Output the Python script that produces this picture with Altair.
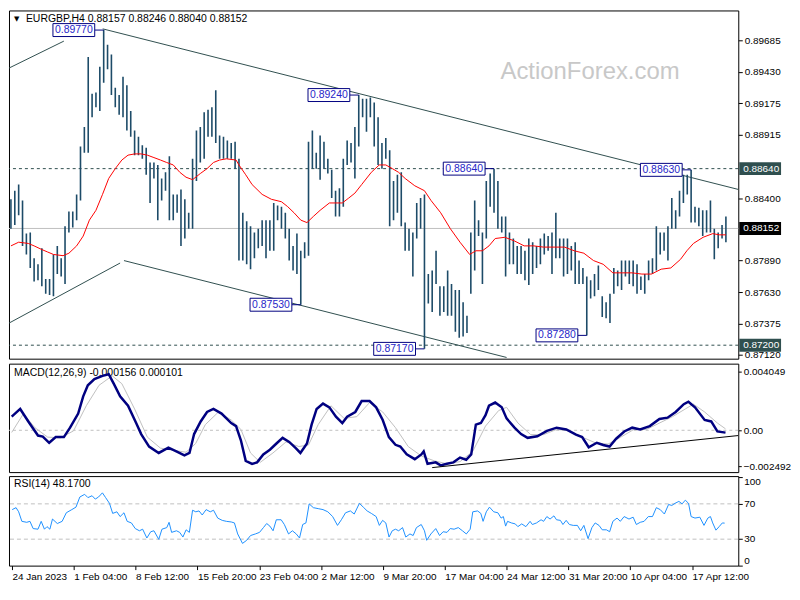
import altair as alt
import pandas as pd

# ---------------- data ----------------
bar_high = [
    0.8839, 0.8846, 0.8851, 0.8838, 0.8811, 0.8812, 0.8791, 0.8786, 0.8799, 0.8774,
    0.8774, 0.8794, 0.8801, 0.8791, 0.8817, 0.8829, 0.8829, 0.8843, 0.8882, 0.8898,
    0.8955, 0.8925, 0.8926, 0.8947, 0.8977, 0.8965, 0.8957, 0.8930, 0.8924, 0.8939,
    0.8932, 0.8911, 0.8895, 0.8890, 0.8883, 0.8881, 0.8869, 0.8869, 0.8867, 0.8856,
    0.8861, 0.8874, 0.8843, 0.8843, 0.8847, 0.8839, 0.8828, 0.8872, 0.8895, 0.8898,
    0.8910, 0.8912, 0.8914, 0.8928, 0.8891, 0.8890, 0.8887, 0.8885, 0.8886, 0.8872,
    0.8828, 0.8821, 0.8817, 0.8812, 0.8815, 0.8822, 0.8822, 0.8822, 0.8836, 0.8834,
    0.8833, 0.8828, 0.8815, 0.8801, 0.8811, 0.8797, 0.8804, 0.8886, 0.8895, 0.8877,
    0.8891, 0.8886, 0.8872, 0.8863, 0.8846, 0.8848, 0.8872, 0.8887, 0.8885, 0.8898,
    0.8924, 0.8921, 0.8921, 0.8922, 0.8918, 0.8906, 0.8885, 0.8889, 0.8879, 0.8854,
    0.8859, 0.8861, 0.8820, 0.8815, 0.8812, 0.8836, 0.8840, 0.8843, 0.8778, 0.8781,
    0.8797, 0.8768, 0.8768, 0.8781, 0.8770, 0.8765, 0.8765, 0.8755, 0.8744, 0.8812,
    0.8838, 0.8822, 0.8812, 0.8854, 0.8860, 0.8864, 0.8854, 0.8825, 0.8825, 0.8812,
    0.8807, 0.8801, 0.8801, 0.8797, 0.8807, 0.8804, 0.8801, 0.8807, 0.8811, 0.8809,
    0.8812, 0.8828, 0.8807, 0.8807, 0.8807, 0.8801, 0.8804, 0.8789, 0.8783, 0.8776,
    0.8773, 0.8778, 0.8785, 0.8760, 0.8755, 0.8762, 0.8783, 0.8781, 0.8789, 0.8789,
    0.8789, 0.8789, 0.8786, 0.8776, 0.8778, 0.8789, 0.8791, 0.8817, 0.8812, 0.8812,
    0.8817, 0.8840, 0.8830, 0.8846, 0.8859, 0.8859, 0.8863, 0.8833, 0.8832, 0.8830,
    0.8830, 0.8838, 0.8815, 0.8812, 0.8818, 0.8825,
]
bar_low = [
    0.8815, 0.8818, 0.8826, 0.8801, 0.8794, 0.8783, 0.8772, 0.8773, 0.8768, 0.8762,
    0.8761, 0.8760, 0.8778, 0.8776, 0.8770, 0.8812, 0.8816, 0.8822, 0.8838, 0.8877,
    0.8877, 0.8906, 0.8914, 0.8911, 0.8934, 0.8945, 0.8924, 0.8914, 0.8908, 0.8906,
    0.8895, 0.8890, 0.8875, 0.8875, 0.8872, 0.8859, 0.8836, 0.8856, 0.8822, 0.8838,
    0.8846, 0.8822, 0.8822, 0.8828, 0.8801, 0.8807, 0.8815, 0.8815, 0.8854, 0.8869,
    0.8872, 0.8890, 0.8890, 0.8885, 0.8872, 0.8872, 0.8872, 0.8872, 0.8864, 0.8789,
    0.8789, 0.8786, 0.8782, 0.8791, 0.8799, 0.8801, 0.8791, 0.8797, 0.8797, 0.8822,
    0.8815, 0.8807, 0.8789, 0.8781, 0.8778, 0.8753, 0.8791, 0.8793, 0.8864, 0.8864,
    0.8855, 0.8864, 0.8860, 0.8840, 0.8825, 0.8825, 0.8833, 0.8867, 0.8869, 0.8856,
    0.8882, 0.8906, 0.8894, 0.8906, 0.8882, 0.8867, 0.8864, 0.8872, 0.8817, 0.8822,
    0.8828, 0.8817, 0.8797, 0.8797, 0.8776, 0.8807, 0.8815, 0.8717, 0.8754, 0.8747,
    0.8770, 0.8744, 0.8747, 0.8744, 0.8744, 0.8731, 0.8726, 0.8727, 0.8730, 0.8762,
    0.8781, 0.8809, 0.8770, 0.8807, 0.8833, 0.8828, 0.8815, 0.8812, 0.8776, 0.8786,
    0.8786, 0.8778, 0.8778, 0.8773, 0.8769, 0.8778, 0.8783, 0.8786, 0.8794, 0.8797,
    0.8778, 0.8791, 0.8791, 0.8776, 0.8778, 0.8781, 0.8770, 0.8770, 0.8770, 0.8728,
    0.8758, 0.8760, 0.8765, 0.8743, 0.8742, 0.8738, 0.8762, 0.8768, 0.8765, 0.8776,
    0.8770, 0.8768, 0.8762, 0.8765, 0.8762, 0.8773, 0.8778, 0.8781, 0.8794, 0.8797,
    0.8789, 0.8815, 0.8815, 0.8825, 0.8836, 0.8843, 0.8820, 0.8820, 0.8817, 0.8809,
    0.8812, 0.8812, 0.8790, 0.8799, 0.8807, 0.8804,
]

ma_points = [
    (0, 0.8801), (2, 0.8804), (4.5, 0.8803), (6, 0.8801), (8, 0.8798), (9.5, 0.8796),
    (11, 0.8794), (13.5, 0.8793), (15, 0.8795), (17, 0.8801), (18.7, 0.8809), (20.3, 0.8822),
    (22, 0.8830), (23.7, 0.8843), (25.3, 0.8856), (27, 0.8864), (28.7, 0.8871), (30.3, 0.8875),
    (32, 0.8876), (33.7, 0.8876), (35.3, 0.8875), (37, 0.8873), (38.7, 0.8871), (40.3, 0.8869),
    (42, 0.8867), (43.7, 0.8861), (45.3, 0.8857), (47, 0.8855), (49, 0.8860), (50.75, 0.8864),
    (52.4, 0.8869), (54, 0.8871), (55.75, 0.8872), (58.25, 0.8871), (59, 0.8867), (60.75, 0.8859),
    (62.4, 0.8851), (65, 0.8843), (67.4, 0.8839), (70, 0.8837), (71.6, 0.8833), (73.25, 0.8828),
    (75, 0.8822), (76.6, 0.8820), (78.25, 0.8825), (80, 0.8830), (82.4, 0.8836), (85.75, 0.8836),
    (87.4, 0.8840), (89, 0.8844), (90.75, 0.8851), (93.25, 0.8861), (95.3, 0.8867), (97, 0.8867),
    (98.7, 0.8864), (100.3, 0.8861), (102, 0.8856), (104.5, 0.8850), (107, 0.8846), (108.7, 0.8838),
    (111.2, 0.8828), (113.7, 0.8815), (116.2, 0.8804), (118.7, 0.8794), (120.3, 0.8797), (122, 0.8797),
    (123.7, 0.8801), (125.3, 0.8807), (127.8, 0.8808), (130.3, 0.8805), (132.8, 0.8801), (135.3, 0.8801),
    (137.8, 0.8800), (140.75, 0.8800), (143.25, 0.8800), (145.75, 0.8797), (148.25, 0.8795), (150.75, 0.8789),
    (153.25, 0.8786), (155.75, 0.8779), (158.25, 0.8779), (160.75, 0.8779), (163.25, 0.8778), (165.75, 0.8778),
    (168.25, 0.8782), (170.75, 0.8783), (173.25, 0.8790), (174.9, 0.8797), (176.6, 0.8803), (179.1, 0.8808),
    (181.6, 0.8811), (183.25, 0.8810), (185, 0.8810),
]

macd_points = [
    (0.2, 0.00094), (2.4, 0.00147), (4.5, 0.00061), (7.0, -0.00036), (8.25, -0.00043), (9.9, -0.00086),
    (11.6, -0.00047), (13.7, -0.00047), (15.3, 0.00018), (17.4, 0.00115), (18.7, 0.00234), (19.9, 0.00310),
    (21.6, 0.00353), (23.7, 0.00375), (25.3, 0.00386), (26.6, 0.00321), (28.25, 0.00234), (30.3, 0.00169),
    (32.4, 0.00050), (33.7, -0.00026), (35.75, -0.00112), (38.25, -0.00156), (40.75, -0.00119), (42.8, -0.00145),
    (44.9, -0.00173), (46.2, -0.00156), (47.4, -0.00026), (49.1, 0.00061), (50.75, 0.00126), (52.4, 0.00147),
    (54.5, 0.00115), (57.0, 0.00050), (58.25, 0.00029), (59.5, -0.00069), (60.75, -0.00210), (62.4, -0.00231),
    (63.7, -0.00221), (65.3, -0.00166), (67.0, -0.00134), (68.7, -0.00091), (70.3, -0.00052), (72.0, -0.00080),
    (73.7, -0.00123), (74.9, -0.00156), (76.6, -0.00091), (77.8, 0.00039), (79.1, 0.00147), (80.75, 0.00184),
    (82.4, 0.00158), (84.1, 0.00094), (85.75, 0.00050), (87.0, 0.00094), (89.1, 0.00126), (90.75, 0.00201),
    (92.8, 0.00201), (94.5, 0.00158), (96.2, 0.00071), (97.8, -0.00047), (99.5, -0.00100), (100.75, -0.00112),
    (102.4, -0.00166), (104.5, -0.00199), (106.2, -0.00166), (106.8, -0.00145), (107.8, -0.00231), (109.9, -0.00221),
    (111.2, -0.00242), (112.8, -0.00231), (114.5, -0.00221), (116.2, -0.00188), (117.8, -0.00203), (119.1, -0.00166),
    (120.3, 0.00039), (121.6, 0.00050), (122.8, 0.00104), (123.7, 0.00169), (125.3, 0.00191), (127.0, 0.00158),
    (128.25, 0.00082), (130.3, 0.00018), (132.0, -0.00026), (133.7, -0.00052), (136.2, -0.00041), (138.7, -0.00004),
    (141.2, 0.00018), (143.7, 0.00006), (146.2, -0.00030), (147.8, -0.00047), (149.5, -0.00117), (151.6, -0.00086),
    (153.25, -0.00101), (154.9, -0.00112), (156.6, -0.00058), (158.7, -0.00008), (160.75, 0.00018), (162.8, 0.00006),
    (165.3, 0.00029), (167.8, 0.00078), (169.9, 0.00087), (172.0, 0.00126), (174.1, 0.00180), (175.3, 0.00197),
    (177.0, 0.00158), (179.5, 0.00071), (181.2, 0.00061), (182.8, -0.00008), (184.9, -0.00016),
]

signal_points = [
    (0.2, -0.00015), (3.25, 0.00115), (6.2, 0.00018), (9.5, -0.00047), (12.8, -0.00052), (16.2, -0.00004),
    (19.5, 0.00169), (22.8, 0.00310), (26.2, 0.00375), (28.7, 0.00321), (32.0, 0.00147), (35.3, -0.00047),
    (38.7, -0.00123), (42.0, -0.00138), (45.3, -0.00151), (47.8, -0.00091), (50.3, 0.00039), (53.7, 0.00126),
    (57.0, 0.00071), (59.5, 0.00006), (62.0, -0.00156), (64.5, -0.00221), (67.8, -0.00156), (71.2, -0.00080),
    (74.5, -0.00112), (77.0, -0.00101), (79.5, 0.00039), (82.8, 0.00169), (86.2, 0.00082), (89.5, 0.00094),
    (92.8, 0.00191), (96.2, 0.00126), (99.5, 0.00018), (102.8, -0.00112), (106.2, -0.00177), (109.5, -0.00210),
    (112.8, -0.00231), (116.2, -0.00216), (119.5, -0.00145), (122.8, 0.00029), (126.2, 0.00136), (128.25, 0.00158),
    (131.2, 0.00050), (134.5, -0.00030), (137.8, -0.00030), (141.2, 0.00006), (144.5, -0.00004), (147.8, -0.00047),
    (151.2, -0.00086), (154.5, -0.00095), (157.8, -0.00047), (161.2, 0.00006), (164.5, 0.00006), (167.8, 0.00050),
    (171.2, 0.00094), (174.5, 0.00147), (176.6, 0.00180), (179.5, 0.00126), (182.8, 0.00050), (184.9, 0.00010),
]

rsi_points = [
    (0.33, 63.5), (1.33, 65.7), (2.0, 61.0), (2.83, 50.2), (4.08, 49.1), (4.92, 50.2), (5.75, 42.0),
    (7.0, 41.3), (7.83, 50.2), (8.67, 41.3), (9.33, 44.2), (10.08, 41.3), (10.75, 52.8), (12.0, 47.7),
    (13.25, 50.2), (14.33, 59.9), (15.75, 63.5), (16.83, 66.3), (17.83, 77.8), (19.08, 80.8), (19.92, 77.1),
    (21.0, 79.2), (21.83, 75.4), (22.67, 77.8), (23.67, 82.5), (24.5, 77.1), (25.5, 70.6), (26.33, 59.2),
    (27.42, 61.0), (28.25, 55.6), (29.25, 59.9), (30.08, 50.2), (31.17, 48.4), (32.17, 42.0), (33.25, 39.5),
    (34.08, 41.3), (35.17, 31.3), (36.17, 38.4), (37.0, 39.5), (38.25, 29.8), (39.08, 41.3), (40.33, 43.1),
    (40.92, 49.1), (41.58, 37.7), (42.83, 39.5), (43.67, 37.7), (44.5, 32.4), (45.33, 40.6), (46.17, 37.7),
    (47.0, 62.8), (47.83, 61.0), (48.67, 62.0), (49.5, 57.4), (50.5, 63.5), (51.58, 61.0), (52.42, 62.8),
    (53.5, 53.9), (54.67, 51.3), (55.75, 50.2), (57.0, 49.5), (57.83, 48.4), (58.67, 35.9), (59.92, 25.2),
    (61.0, 28.7), (62.0, 34.1), (63.25, 35.9), (64.33, 37.7), (65.33, 43.1), (66.17, 47.7), (67.0, 44.8),
    (67.83, 39.5), (68.67, 52.0), (69.92, 52.0), (70.75, 46.6), (71.83, 35.9), (72.83, 39.5), (73.83, 35.9),
    (74.67, 31.3), (75.5, 46.6), (76.33, 48.4), (77.17, 70.0), (78.25, 65.7), (79.5, 64.6), (80.75, 63.5),
    (82.0, 61.0), (83.25, 55.6), (84.5, 45.6), (85.5, 52.0), (86.58, 59.9), (87.83, 62.0), (88.83, 58.5),
    (90.17, 70.6), (91.17, 66.3), (92.17, 62.0), (93.25, 59.2), (94.5, 55.6), (95.33, 45.6), (96.17, 51.3),
    (97.0, 48.4), (97.83, 32.4), (98.67, 39.5), (99.5, 41.3), (100.33, 39.5), (101.33, 43.1), (102.17, 32.4),
    (103.25, 35.9), (104.08, 34.1), (104.92, 43.1), (106.17, 46.6), (107.0, 39.5), (107.58, 28.7), (108.67, 35.9),
    (109.92, 42.0), (110.92, 34.1), (111.83, 38.4), (112.83, 37.7), (113.67, 42.0), (114.67, 41.3), (115.75, 43.1),
    (116.83, 39.5), (117.83, 35.9), (118.83, 41.3), (119.5, 61.0), (120.75, 62.0), (121.58, 59.2), (122.17, 50.2),
    (123.0, 61.0), (123.83, 66.3), (124.92, 61.0), (126.0, 59.9), (126.83, 53.9), (127.42, 55.6), (128.0, 44.8),
    (128.5, 50.2), (129.5, 48.4), (130.5, 47.3), (131.17, 44.2), (132.17, 47.3), (133.25, 44.2), (134.33, 50.2),
    (134.92, 46.6), (136.0, 48.4), (137.17, 52.0), (137.83, 50.2), (138.67, 55.6), (139.5, 52.8), (140.5, 56.4),
    (141.17, 52.0), (142.17, 51.3), (142.83, 46.6), (143.67, 51.3), (144.5, 46.6), (145.5, 45.6), (146.58, 45.6),
    (147.42, 39.5), (148.25, 45.6), (149.33, 30.6), (150.33, 43.1), (151.17, 48.4), (152.17, 45.6), (153.0, 40.6),
    (154.08, 40.6), (154.92, 38.4), (155.75, 50.2), (156.83, 53.9), (157.67, 50.2), (158.67, 55.6), (159.92, 52.8),
    (161.0, 54.9), (161.83, 46.6), (162.83, 49.1), (163.83, 50.2), (164.92, 55.6), (166.0, 55.6), (167.0, 65.7),
    (168.0, 63.5), (169.08, 58.5), (170.17, 69.3), (171.0, 68.2), (171.83, 70.6), (172.83, 72.8), (173.67, 70.0),
    (174.5, 74.2), (175.33, 70.6), (176.0, 55.6), (177.0, 53.9), (178.25, 54.9), (179.33, 45.6), (180.33, 53.9),
    (181.0, 55.6), (181.58, 48.4), (182.42, 40.2), (183.25, 44.2), (184.08, 48.4), (184.67, 48.17),
]

# trend lines on the price pane: (start index, start price, end index, end price)
trend_lines = [
    (-0.5, 0.8946, 13.7, 0.8968),
    (-0.5, 0.8738, 28.25, 0.8787),
    (29.25, 0.8789, 128.25, 0.8710),
    (23.75, 0.8978, 188.25, 0.8847),
]
macd_trend = [(109.0, -0.00257, 188.25, -0.00036)]

price_ticks = [0.89685, 0.89430, 0.89175, 0.88915, 0.88400, 0.87890, 0.87630, 0.87375, 0.87120]
box_levels = [0.88640, 0.88152, 0.87200]
box_labels = ["0.88640", "0.88152", "0.87200"]
box_fill = ["#2f4f4f", "#000000", "#2f4f4f"]
dashed_levels = [0.88640, 0.87200]
last_price = [0.88152]

marker_labels = ["0.89770", "0.89240", "0.87530", "0.88640", "0.87170", "0.87280", "0.88630"]
marker_idx = [24, 90, 75, 125, 107, 149, 176]
marker_price = [0.89770, 0.89240, 0.87530, 0.88640, 0.87170, 0.87280, 0.88630]

time_idx = [0.25, 16.25, 32.25, 48.25, 64.25, 80.25, 96.25, 112.25, 128.25, 144.25, 160.25, 176.25]
time_labels = ["24 Jan 2023", "1 Feb 04:00", "8 Feb 12:00", "15 Feb 20:00", "23 Feb 04:00",
               "2 Mar 12:00", "9 Mar 20:00", "17 Mar 04:00", "24 Mar 12:00", "31 Mar 20:00",
               "10 Apr 04:00", "17 Apr 12:00"]

macd_ticks = [0.004049, 0.0, -0.002492]
rsi_ticks = [100, 70, 30, 0]
rsi_mid_labels = ["70", "30"]
rsi_mid_values = [70, 30]
rsi_top_label = "100"
rsi_bottom_label = "0\u200b"
rsi_levels = [70, 30]

title_main = "EURGBP,H4  0.88157 0.88246 0.88040 0.88152"
title_macd = "MACD(12,26,9) -0.000156 0.000101"
title_rsi = "RSI(14) 48.1700"
watermark = "ActionForex.com"

# ---------------- layout / style ----------------
W = 733
H1, H2, H3 = 350, 109, 90
FONT = "Liberation Sans"
BAR = "#1d4b68"

xs = alt.Scale(domain=[-0.5, 188.2], nice=False, zero=False)
ys1 = alt.Scale(domain=[0.8709, 0.8993], nice=False, zero=False)
ys2 = alt.Scale(domain=[-0.00288, 0.00459], nice=False, zero=False)
ys3 = alt.Scale(domain=[0, 101.5], nice=False, zero=False)


def raxis(values, **kw):
    base = dict(orient="right", values=values, title=None, grid=False, domain=False,
                ticks=True, tickSize=4, tickColor="black", labelColor="black",
                labelFont=FONT, labelFontSize=10, labelPadding=2,
                labelOverlap=False, labelBound=False, labelFlush=False)
    base.update(kw)
    return alt.Axis(**base)


AX1 = raxis(price_ticks, format=".5f")
AX2 = raxis(macd_ticks, tickSize=3,
            labelExpr="datum.value == 0 ? '0.00' : format(datum.value, '.6f')")
AX3 = raxis(rsi_ticks, labels=False)


def txt(s):
    return pd.DataFrame({"t": [s]})


# ---------------- main price pane ----------------
df_bars = pd.DataFrame({"i": list(range(len(bar_high))), "high": bar_high, "low": bar_low})
df_ma = pd.DataFrame(ma_points, columns=["i", "v"])
df_tr = pd.DataFrame(trend_lines, columns=["i1", "p1", "i2", "p2"])
df_mk = pd.DataFrame({"i": marker_idx, "p": marker_price, "t": marker_labels})
df_box = pd.DataFrame({"p": box_levels, "t": box_labels, "c": box_fill})

l_dash = alt.Chart(pd.DataFrame({"p": dashed_levels})).mark_rule(
    color="#2f4f4f", strokeDash=[3, 3], strokeWidth=1).encode(
    y=alt.Y("p:Q", scale=ys1, axis=AX1))
l_last = alt.Chart(pd.DataFrame({"p": last_price})).mark_rule(
    color="#c0c0c0", strokeWidth=1).encode(y=alt.Y("p:Q", scale=ys1, axis=AX1))
l_wm = alt.Chart(txt(watermark)).mark_text(
    font=FONT, fontSize=24, color="#c8c8c8", align="center", baseline="middle").encode(
    x=alt.value(584), y=alt.value(62), text="t:N")
l_tr = alt.Chart(df_tr).mark_rule(color="#2f4f4f", strokeWidth=1, clip=True).encode(
    x=alt.X("i1:Q", scale=xs, axis=None), y=alt.Y("p1:Q", scale=ys1, axis=AX1),
    x2="i2:Q", y2="p2:Q")
l_bars = alt.Chart(df_bars).mark_rule(color=BAR, strokeWidth=1.6, clip=True).encode(
    x=alt.X("i:Q", scale=xs, axis=None), y=alt.Y("low:Q", scale=ys1, axis=AX1), y2="high:Q")
l_ma = alt.Chart(df_ma).mark_line(color="#ff0000", strokeWidth=1, clip=True).encode(
    x=alt.X("i:Q", scale=xs, axis=None), y=alt.Y("v:Q", scale=ys1, axis=AX1))
l_mk_line = alt.Chart(df_mk).mark_rule(color="#000080", strokeWidth=1, xOffset=-9, x2Offset=0).encode(
    x=alt.X("i:Q", scale=xs, axis=None), x2="i:Q", y=alt.Y("p:Q", scale=ys1, axis=AX1))
l_mk_box = alt.Chart(df_mk).mark_rect(
    fill="white", stroke="#000080", strokeWidth=1,
    xOffset=-51, x2Offset=-9, yOffset=-6.5, y2Offset=6.5).encode(
    x=alt.X("i:Q", scale=xs, axis=None), x2="i:Q",
    y=alt.Y("p:Q", scale=ys1, axis=AX1), y2="p:Q")
l_mk_txt = alt.Chart(df_mk).mark_text(
    dx=-30, font=FONT, fontSize=10.5, color="#2626c8", align="center", baseline="middle").encode(
    x=alt.X("i:Q", scale=xs, axis=None), y=alt.Y("p:Q", scale=ys1, axis=AX1), text="t:N")
l_box = alt.Chart(df_box).mark_rect(yOffset=-6.5, y2Offset=6.5).encode(
    x=alt.value(W + 1), x2=alt.value(W + 43),
    y=alt.Y("p:Q", scale=ys1, axis=AX1), y2="p:Q",
    color=alt.Color("c:N", scale=None, legend=None))
l_box_t = alt.Chart(df_box).mark_text(
    align="left", baseline="middle", color="white", font=FONT, fontSize=10).encode(
    x=alt.value(W + 5), y=alt.Y("p:Q", scale=ys1, axis=AX1), text="t:N")
l_tri = alt.Chart(txt("\u25bc")).mark_text(
    font="DejaVu Sans", fontSize=7, color="black", align="left", baseline="middle").encode(
    x=alt.value(5), y=alt.value(9), text="t:N")
l_title = alt.Chart(txt(title_main)).mark_text(
    font=FONT, fontSize=10.5, color="black", align="left", baseline="middle").encode(
    x=alt.value(17), y=alt.value(9), text="t:N")

main = alt.layer(l_dash, l_last, l_wm, l_tr, l_bars, l_ma, l_mk_line, l_mk_box, l_mk_txt,
                 l_box, l_box_t, l_tri, l_title).properties(width=W, height=H1)

# ---------------- MACD pane ----------------
df_macd = pd.DataFrame(macd_points, columns=["i", "v"])
df_sig = pd.DataFrame(signal_points, columns=["i", "v"])
df_mtr = pd.DataFrame(macd_trend, columns=["i1", "v1", "i2", "v2"])

m_zero = alt.Chart(pd.DataFrame({"v": [0.0]})).mark_rule(
    color="#c0c0c0", strokeDash=[3, 3], strokeWidth=1).encode(
    y=alt.Y("v:Q", scale=ys2, axis=AX2))
m_title = alt.Chart(txt(title_macd)).mark_text(
    font=FONT, fontSize=10.5, color="black", align="left", baseline="middle").encode(
    x=alt.value(5), y=alt.value(9), text="t:N")
m_sig = alt.Chart(df_sig).mark_line(color="#c0c0c0", strokeWidth=1, clip=True).encode(
    x=alt.X("i:Q", scale=xs, axis=None), y=alt.Y("v:Q", scale=ys2, axis=AX2))
m_main = alt.Chart(df_macd).mark_line(color="#000080", strokeWidth=2.5, clip=True).encode(
    x=alt.X("i:Q", scale=xs, axis=None), y=alt.Y("v:Q", scale=ys2, axis=AX2))
m_tr = alt.Chart(df_mtr).mark_rule(color="black", strokeWidth=1, clip=True).encode(
    x=alt.X("i1:Q", scale=xs, axis=None), y=alt.Y("v1:Q", scale=ys2, axis=AX2),
    x2="i2:Q", y2="v2:Q")

macd = alt.layer(m_zero, m_title, m_sig, m_main, m_tr).properties(width=W, height=H2)

# ---------------- RSI pane ----------------
df_rsi = pd.DataFrame(rsi_points, columns=["i", "v"])
lab_js = "[" + ",".join("'" + s + "'" for s in time_labels) + "]"
idx_js = "[" + ",".join(str(v) for v in time_idx) + "]"
x_axis = alt.Axis(orient="bottom", values=time_idx, title=None, grid=False, domain=False,
                  ticks=True, tickSize=4, tickColor="black", labelColor="black",
                  labelFont=FONT, labelFontSize=10, labelPadding=2, labelAlign="left",
                  labelBaseline="top", labelFlush=False, labelOverlap=False, labelBound=False,
                  labelExpr=lab_js + "[indexof(" + idx_js + ", datum.value)]")

r_lv = alt.Chart(pd.DataFrame({"v": rsi_levels})).mark_rule(
    color="#c0c0c0", strokeDash=[4, 3], strokeWidth=1).encode(
    y=alt.Y("v:Q", scale=ys3, axis=AX3))
r_title = alt.Chart(txt(title_rsi)).mark_text(
    font=FONT, fontSize=10.5, color="black", align="left", baseline="middle").encode(
    x=alt.value(5), y=alt.value(8), text="t:N")
r_line = alt.Chart(df_rsi).mark_line(color="#1e90ff", strokeWidth=1, clip=True).encode(
    x=alt.X("i:Q", scale=xs, axis=x_axis), y=alt.Y("v:Q", scale=ys3, axis=AX3))

r_lab_mid = alt.Chart(pd.DataFrame({"v": rsi_mid_values, "t": rsi_mid_labels})).mark_text(
    align="left", baseline="middle", color="black", font=FONT, fontSize=10).encode(
    x=alt.value(W + 6), y=alt.Y("v:Q", scale=ys3, axis=AX3), text="t:N")
r_lab_top = alt.Chart(txt("top")).mark_text(
    align="left", baseline="top", color="black", font=FONT, fontSize=10).encode(
    x=alt.value(W + 6), y=alt.value(1), text=alt.value(rsi_top_label))
r_lab_bot = alt.Chart(txt("bottom")).mark_text(
    align="left", baseline="middle", color="black", font=FONT, fontSize=10).encode(
    x=alt.value(W + 6), y=alt.value(H3 - 5), text=alt.value(rsi_bottom_label))

rsi = alt.layer(r_lv, r_title, r_line, r_lab_mid, r_lab_top, r_lab_bot).properties(width=W, height=H3)

chart = alt.vconcat(main, macd, rsi, spacing=2).properties(
    padding={"left": 0, "top": 0, "right": 0, "bottom": 0}, background="white"
).configure_view(stroke="black", strokeWidth=1)

chart.save("out.html", embed_options={"renderer": "svg", "actions": False})
